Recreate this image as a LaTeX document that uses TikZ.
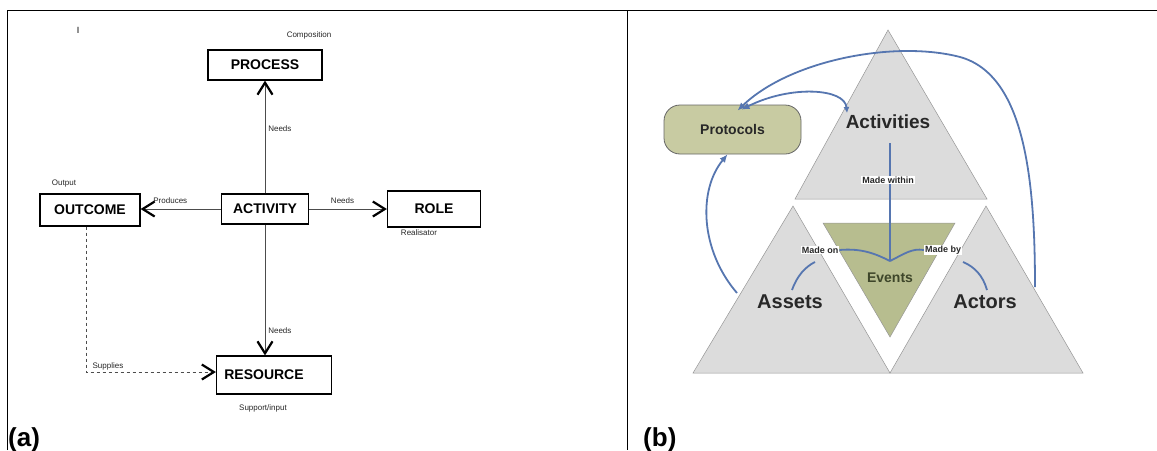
\documentclass[tikz,border=0pt]{standalone}
\usepackage{fontspec}
\setmainfont{Liberation Sans}
\usetikzlibrary{arrows.meta,positioning}
\definecolor{linkblue}{RGB}{86,118,176}
\definecolor{trigray}{RGB}{220,220,220}
\definecolor{triborder}{RGB}{150,150,150}
\definecolor{eventgreen}{RGB}{183,189,143}
\definecolor{protgreen}{RGB}{200,203,162}
\definecolor{textdark}{RGB}{40,40,40}
\definecolor{eventtext}{RGB}{62,70,42}
\begin{document}
\begin{tikzpicture}
[x=1pt,y=-1pt,
  boxdecorate/.style={shape=rectangle,draw,line width=1.2pt,inner sep=0pt},%
  boxtextdecorate/.style={font=\fontsize{14}{16}\selectfont\bfseries},%
  smalldecorate/.style={font=\fontsize{8}{9}\selectfont,text=black!85,inner sep=1pt},%
  arrowdecorate/.style={-{Straight Barb[length=12pt,width=15pt,line width=2.2pt,color=black]},draw=black!70,line width=0.6pt},%
  dasheddecorate/.style={arrowdecorate,dashed},%
  framedecorate/.style={-,line width=1pt},%
  triangledecorate/.style={fill=trigray,draw=triborder,line width=0.5pt},%
  bluedecorate/.style={draw=linkblue,line width=1.8pt},%
  bluearrowdecorate/.style={bluedecorate,-{Latex[length=8pt,width=7pt]}},%
  madedecorate/.style={font=\fontsize{9}{10}\selectfont\bfseries,text=textdark,fill=white,inner sep=1pt},%
  bigdecorate/.style={font=\fontsize{19}{22}\selectfont\bfseries,text=textdark}]
\useasboundingbox (0,0) rectangle (1157,450);
%% frame
\draw[framedecorate] (7,450) -- (7,10) -- (1157,10);
\draw[framedecorate] (627,10) -- (627,450);
\node (tick) at (78,30) [font=\fontsize{9}{10}\selectfont,inner sep=0pt] {I};
%% (a) boxes
\foreach \nodename/\x/\y/\w/\h/\dx in {PROCESS/265/65/114/30/0,
  OUTCOME/90/210/100/32/0, ACTIVITY/265/209/87/30/0,
  ROLE/434/209/93/36/0, RESOURCE/274/375/115/38/-10} {
  \node (\nodename) at (\x,\y) [boxdecorate,minimum width=\w pt,minimum height=\h pt] {};
  \node [boxtextdecorate] at ([xshift=\dx pt]\nodename.center) {\nodename};
}
%% (a) free labels
\node (composition) at (309,35) [smalldecorate] {Composition};
\node (output) at (64,184) [smalldecorate] {Output};
\node (realisator) at (419,233) [smalldecorate] {Realisator};
\node (support) at (263,408) [smalldecorate] {Support/input};
\node (labela) at (8,446) [anchor=base west,inner sep=0pt,font=\fontsize{26}{28}\selectfont\bfseries] {(a)};
%% (a) edges
\draw[arrowdecorate] (ACTIVITY.north) -- node[pos=0.57,right=2pt,smalldecorate] {Needs} (PROCESS.south);
\draw[arrowdecorate] (ACTIVITY.south) -- node[pos=0.81,right=2pt,smalldecorate] {Needs} (ACTIVITY.south |- RESOURCE.north);
\draw[arrowdecorate] (ACTIVITY.west) -- node[pos=0.63,above=4pt,smalldecorate] {Produces} (ACTIVITY.west -| OUTCOME.east);
\draw[arrowdecorate] (ACTIVITY.east) -- node[pos=0.43,above=4pt,smalldecorate] {Needs} (ACTIVITY.east -| ROLE.west);
\coordinate (supplyfoot) at (86,372);
\draw[dasheddecorate] ([xshift=-4pt]OUTCOME.south) -- (supplyfoot) -- (supplyfoot -| RESOURCE.west);
\node (supplies) at (108,366) [smalldecorate] {Supplies};
%% (b) triangles
\draw[triangledecorate] (888,30) -- (795,199) -- (987,199) -- cycle;
\draw[triangledecorate] (793,206) -- (693,373) -- (890,373) -- cycle;
\draw[triangledecorate] (986,206) -- (890,373) -- (1083,373) -- cycle;
\draw[fill=eventgreen,draw=triborder,line width=0.5pt] (823,223) -- (955,223) -- (890,337) -- cycle;
%% (b) nodes
\node (protocols) at (732.5,129.5) [shape=rectangle,rounded corners=16pt,fill=protgreen,draw=black!60,line width=0.8pt,minimum width=137pt,minimum height=49pt,font=\fontsize{14}{16}\selectfont\bfseries,text=textdark] {Protocols};
\node (activities) at (888,122) [bigdecorate] {Activities};
\node (assets) at (790,302) [bigdecorate,font=\fontsize{20}{22}\selectfont\bfseries] {Assets};
\node (actors) at (985,302) [bigdecorate,font=\fontsize{20}{22}\selectfont\bfseries] {Actors};
\node (events) at (890,278) [font=\fontsize{14}{16}\selectfont\bfseries,text=eventtext] {Events};
\coordinate (hub) at (890,261);
\coordinate (assetsedge) at (737,293);
\coordinate (actorsedge) at (1035,287);
\coordinate (activitiesedge) at (847,113);
%% (b) edges
\draw[bluedecorate] (890,143) -- (hub);
\node (madewithin) at (888,180) [madedecorate] {Made within};
\node (madeon) at (820,250) [madedecorate] {Made on};
\node (madeby) at (943,250) [madedecorate] {Made by};
\draw[bluedecorate] (madeon.east) .. controls (862,248) and (876,254) .. (hub);
\draw[bluedecorate] (hub) .. controls (904,254) and (912,248) .. (madeby.west);
\draw[bluedecorate] (792,290) .. controls (797,276) and (805,267) .. (815,262);
\draw[bluedecorate] (987,290) .. controls (983,276) and (975,267) .. (963,262);
\draw[bluearrowdecorate] (assetsedge) .. controls (700,250) and (698,190) .. ([xshift=-5pt]protocols.south);
\draw[bluearrowdecorate] (actorsedge) .. controls (1035,180) and (1025,75) .. (960,57) .. controls (895,40) and (790,60) .. ([xshift=5pt,yshift=-6pt]protocols.north);
\draw[bluedecorate,{Latex[length=6pt,width=6pt]}-{Latex[length=8pt,width=7pt]}] (activitiesedge) .. controls (845,88) and (790,85) .. ([xshift=9pt,yshift=-5pt]protocols.north);
\node (labelb) at (643,446) [anchor=base west,inner sep=0pt,font=\fontsize{26}{28}\selectfont\bfseries] {(b)};
\end{tikzpicture}
\end{document}
